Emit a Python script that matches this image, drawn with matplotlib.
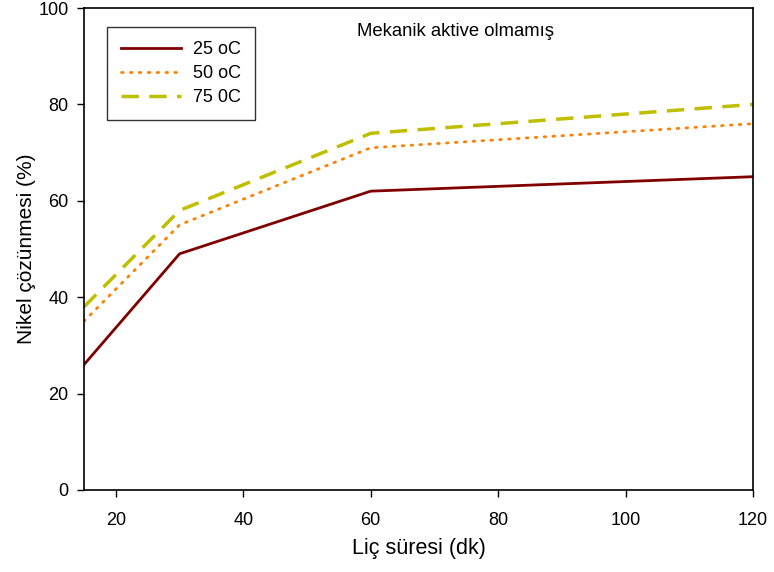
import matplotlib
matplotlib.use("Agg")
import matplotlib.pyplot as plt

plt.rcParams['font.family'] = ['Liberation Sans', 'DejaVu Sans']

# leaching time (min) and nickel dissolution (%) per temperature
sure = [15, 30, 60, 120]
nikel_25 = [26, 49, 62, 65]
nikel_50 = [35, 55, 71, 76]
nikel_75 = [38, 58, 74, 80]

fig = plt.figure(figsize=(7.74, 5.72), dpi=100)
ax = fig.add_axes([0.1085, 0.1434, 0.8645, 0.8426])

ax.plot(sure, nikel_25, color='#800000', lw=2, label='25 oC')
ax.plot(sure, nikel_50, color='#FF8000', lw=2, ls=(0, (0.6, 2.6)),
        dash_capstyle='round', label='50 oC')
ax.plot(sure, nikel_75, color='#BFBF00', lw=2.5, ls=(0, (5, 3)), label='75 0C')

ax.set_xlim(15, 120)
ax.set_ylim(0, 100)
ax.set_xticks([20, 40, 60, 80, 100, 120])
ax.set_yticks([0, 20, 40, 60, 80, 100])
ax.tick_params(direction='out', labelsize=13, length=5, width=1)
ax.tick_params(axis='x', pad=11)
ax.tick_params(axis='y', pad=6)
for s in ax.spines.values():
    s.set_linewidth(1.2)

ax.set_xlabel('Liç süresi (dk)', fontsize=15.5, labelpad=6)
ax.set_ylabel('Nikel çözünmesi (%)', fontsize=15, labelpad=2)

ax.text(0.555, 0.952, 'Mekanik aktive olmamış', transform=ax.transAxes,
        fontsize=13.3, ha='center', va='center')

leg = ax.legend(loc='upper left', bbox_to_anchor=(0.035, 0.96), fontsize=13,
                frameon=True, fancybox=False, edgecolor='black',
                handlelength=3.3, borderpad=0.75, labelspacing=0.4,
                handletextpad=0.7, borderaxespad=0)
leg.get_frame().set_linewidth(1.0)

fig.savefig('out.png', dpi=100)
